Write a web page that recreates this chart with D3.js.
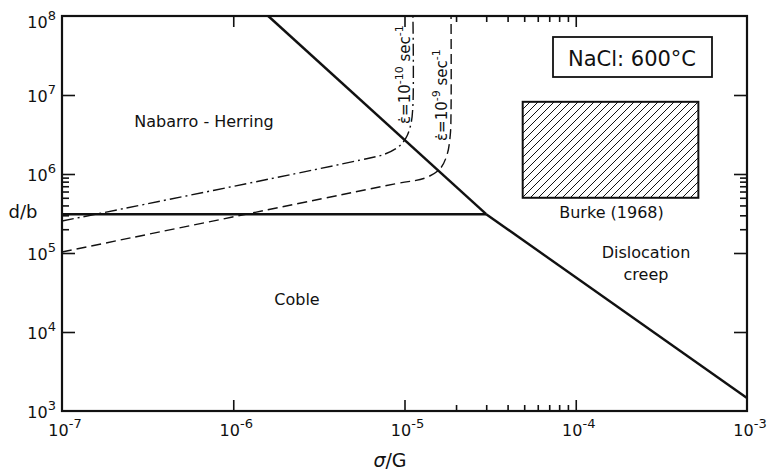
<!DOCTYPE html>
<html>
<head>
<meta charset="utf-8">
<script src="https://cdn.jsdelivr.net/npm/d3@7"></script>
<style>
  body { margin: 0; background: #fff; }
  text { font-family: "DejaVu Sans", sans-serif; fill: #111; }
</style>
</head>
<body>
<svg id="chart" width="769" height="473"></svg>
<script>
// axis ticks
const xMajor = [1e-7, 1e-6, 1e-5, 1e-4, 1e-3];
const xExp = [-7, -6, -5, -4, -3];
const xMinor = [2e-5, 3e-5, 4e-5, 5e-5, 6e-5, 7e-5, 8e-5, 9e-5];
const yMajor = [1e3, 1e4, 1e5, 1e6, 1e7, 1e8];
const yExp = [3, 4, 5, 6, 7, 8];
const yMinor = [2e5, 3e5, 4e5, 5e5, 6e5, 7e5, 8e5, 9e5];

// field boundaries [sigma/G, d/b]
const nhDisloc = [[1.6e-6, 1e8], [3.0e-5, 3.1e5]];
const cobleDisloc = [[3.0e-5, 3.1e5], [1e-3, 1.46e3]];
const nhCoble = [[1e-7, 3.1e5], [3.0e-5, 3.1e5]];

// constant strain-rate contours
const rate1e10 = [[1e-7, 2.54e5], [5.5e-6, 1.5e6], [7.7e-6, 1.79e6], [9.2e-6, 2.2e6],
  [1.02e-5, 2.86e6], [1.09e-5, 4.3e6], [1.12e-5, 7.5e6], [1.12e-5, 1e8]];
const rate1e9 = [[1e-7, 1.03e5], [8.8e-6, 7.5e5], [1.32e-5, 8.9e5], [1.61e-5, 1.16e6],
  [1.77e-5, 1.74e6], [1.85e-5, 3.1e6], [1.87e-5, 6.5e6], [1.87e-5, 1e8]];

// Burke (1968) experimental range
const burkeSigma = [4.9e-5, 5.2e-4];
const burkeD = [5e5, 8.2e6];

const svg = d3.select("#chart");
const margin = { left: 62, right: 747, top: 16, bottom: 411 };

const x = d3.scaleLog().domain([1e-7, 1e-3]).range([margin.left, margin.right]);
const y = d3.scaleLog().domain([1e3, 1e8]).range([margin.bottom, margin.top]);

// hatch pattern
const defs = svg.append("defs");
defs.append("pattern")
    .attr("id", "hatch")
    .attr("patternUnits", "userSpaceOnUse")
    .attr("width", 8).attr("height", 8)
  .append("path")
    .attr("d", "M-2,2 l4,-4 M0,8 l8,-8 M6,10 l4,-4")
    .attr("stroke", "#111")
    .attr("stroke-width", 1);

// ticks (inward)
function tickAxis(axis, tr, size, vals) {
    const g = svg.append("g")
        .attr("transform", tr)
        .call(axis.tickValues(vals).tickSize(-size).tickFormat(""));
    g.select(".domain").remove();
    g.selectAll("line").attr("stroke", "#111").attr("stroke-width", 1.6);
}
tickAxis(d3.axisBottom(x), `translate(0,${margin.bottom})`, 11, xMajor.slice(1, -1));
tickAxis(d3.axisBottom(x), `translate(0,${margin.bottom})`, 6, xMinor);
tickAxis(d3.axisTop(x), `translate(0,${margin.top})`, 11, xMajor.slice(1, -1));
tickAxis(d3.axisTop(x), `translate(0,${margin.top})`, 6, xMinor);
tickAxis(d3.axisLeft(y), `translate(${margin.left},0)`, 13, yMajor.slice(1, -1));
tickAxis(d3.axisLeft(y), `translate(${margin.left},0)`, 7, yMinor);
tickAxis(d3.axisRight(y), `translate(${margin.right},0)`, 13, yMajor.slice(1, -1));
tickAxis(d3.axisRight(y), `translate(${margin.right},0)`, 7, yMinor);

// frame
svg.append("rect")
    .attr("x", margin.left).attr("y", margin.top)
    .attr("width", margin.right - margin.left).attr("height", margin.bottom - margin.top)
    .attr("fill", "none").attr("stroke", "#111").attr("stroke-width", 2.2);

// tick labels
const xl = svg.append("g").selectAll("text").data(xMajor).join("text")
    .attr("x", d => x(d) + 3).attr("y", 436)
    .attr("text-anchor", "middle").attr("font-size", 16);
xl.append("tspan").text("10");
xl.append("tspan").attr("dy", -8).attr("font-size", 13).text((d, i) => "-" + (-xExp[i]));

const yl = svg.append("g").selectAll("text").data(yMajor).join("text")
    .attr("x", 56).attr("y", (d, i) => y(d) + (yExp[i] === 8 ? 12 : 7))
    .attr("text-anchor", "end").attr("font-size", 16);
yl.append("tspan").text("10");
yl.append("tspan").attr("dy", -8).attr("font-size", 13).text((d, i) => yExp[i]);

// axis titles
svg.append("text").attr("x", 390).attr("y", 467).attr("text-anchor", "middle")
    .attr("font-size", 19)
    .html('<tspan font-style="italic">σ</tspan>/G');
svg.append("text").attr("x", 23).attr("y", 218).attr("text-anchor", "middle")
    .attr("font-size", 18).text("d/b");

// boundaries
const line = d3.line().x(d => x(d[0])).y(d => y(d[1]));
const curve = d3.line().x(d => x(d[0])).y(d => y(d[1])).curve(d3.curveCatmullRom.alpha(0.5));

[nhDisloc, cobleDisloc, nhCoble].forEach(seg => {
    svg.append("path").attr("d", line(seg))
        .attr("fill", "none").attr("stroke", "#111").attr("stroke-width", 2.4);
});

svg.append("path").attr("d", curve(rate1e10))
    .attr("fill", "none").attr("stroke", "#111").attr("stroke-width", 1.4)
    .attr("stroke-dasharray", "12,4,2,4");
svg.append("path").attr("d", curve(rate1e9))
    .attr("fill", "none").attr("stroke", "#111").attr("stroke-width", 1.4)
    .attr("stroke-dasharray", "10,5");

// Burke box
svg.append("rect")
    .attr("x", x(burkeSigma[0])).attr("y", y(burkeD[1]))
    .attr("width", x(burkeSigma[1]) - x(burkeSigma[0]))
    .attr("height", y(burkeD[0]) - y(burkeD[1]))
    .attr("fill", "url(#hatch)").attr("stroke", "#111").attr("stroke-width", 2);
svg.append("text")
    .attr("x", (x(burkeSigma[0]) + x(burkeSigma[1])) / 2 + 1).attr("y", 218)
    .attr("text-anchor", "middle").attr("font-size", 16).text("Burke (1968)");

// material box
svg.append("rect").attr("x", 553).attr("y", 37).attr("width", 159).attr("height", 40)
    .attr("fill", "#fff").attr("stroke", "#111").attr("stroke-width", 1.8);
svg.append("text").attr("x", 632).attr("y", 66).attr("text-anchor", "middle")
    .attr("font-size", 21).text("NaCl: 600°C");

// field labels
const labels = [
    { t: "Nabarro - Herring", x: 204, y: 127 },
    { t: "Coble", x: 297, y: 305 },
    { t: "Dislocation", x: 646, y: 258 },
    { t: "creep", x: 646, y: 280 }
];
svg.append("g").selectAll("text").data(labels).join("text")
    .attr("x", d => d.x).attr("y", d => d.y)
    .attr("text-anchor", "middle").attr("font-size", 16).text(d => d.t);

// rate labels, rotated
function rateLabel(px, py, exp) {
    const t = svg.append("text")
        .attr("transform", `translate(${px},${py}) rotate(-90)`)
        .attr("font-size", 15);
    t.append("tspan").text("\u03B5\u0307=10");
    t.append("tspan").attr("dy", -7).attr("font-size", 11).text("-" + exp);
    t.append("tspan").attr("dy", 7).text(" sec");
    t.append("tspan").attr("dy", -7).attr("font-size", 11).text("-1");
}
rateLabel(410, 124, 10);
rateLabel(447, 141, 9);
</script>
</body>
</html>
